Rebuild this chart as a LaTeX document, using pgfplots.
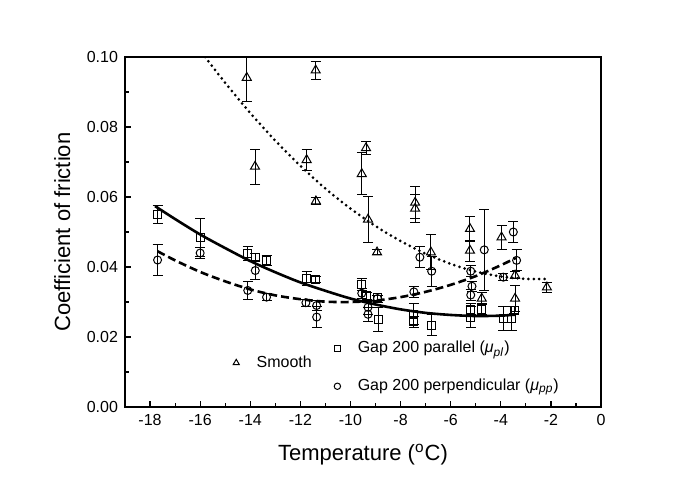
\documentclass[border=0pt]{standalone}
\usepackage{fontspec}
\setmainfont{Liberation Sans}
\usepackage{pgfplots}
\pgfplotsset{compat=1.18}
\usepackage{pgfplotstable}

\pgfplotstableread{
x y e
-14.14 0.0941 0.0068
-11.39 0.0962 0.0025
-13.81 0.0687 0.0050
-11.75 0.0706 0.0030
-11.38 0.0588 0.0010
-9.55 0.0666 0.0060
-9.38 0.0740 0.0018
-9.30 0.0536 0.0065
-8.94 0.0442 0.0007
-7.42 0.0584 0.0045
-7.42 0.0567 0.0040
-6.79 0.0442 0.0050
-5.23 0.0509 0.0035
-5.23 0.0447 0.0030
-4.76 0.0310 0.0018
-3.97 0.0485 0.0035
-3.43 0.0376 0.0010
-3.43 0.0310 0.0037
-2.16 0.0342 0.0015
}\smooth

\pgfplotstableread{
x y e
-17.70 0.0550 0.0025
-16.00 0.0485 0.0055
-14.10 0.0438 0.0020
-13.80 0.0428 0.0010
-13.35 0.0419 0.0015
-11.75 0.0368 0.0020
-11.38 0.0364 0.0008
-9.55 0.0350 0.0017
-9.35 0.0318 0.0010
-8.93 0.0312 0.0008
-8.90 0.0250 0.0035
-7.47 0.0265 0.0030
-7.47 0.0243 0.0015
-6.76 0.0234 0.0030
-5.20 0.0280 0.0015
-5.20 0.0257 0.0030
-4.76 0.0280 0.0015
-3.90 0.0253 0.0035
-3.57 0.0253 0.0035
-3.47 0.0276 0.0010
}\parallel

\pgfplotstableread{
x y e
-17.70 0.0420 0.0043
-16.00 0.0440 0.0015
-14.10 0.0333 0.0027
-13.80 0.0390 0.0025
-13.35 0.0314 0.0010
-11.78 0.0298 0.0010
-11.35 0.0290 0.0015
-11.35 0.0257 0.0030
-9.55 0.0325 0.0015
-9.30 0.0285 0.0020
-9.30 0.0265 0.0020
-8.92 0.0310 0.0010
-7.47 0.0329 0.0015
-7.23 0.0428 0.0030
-6.76 0.0388 0.0043
-5.20 0.0388 0.0015
-5.15 0.0345 0.0015
-5.20 0.0320 0.0015
-4.66 0.0449 0.0115
-3.90 0.0371 0.0010
-3.50 0.0500 0.0030
-3.37 0.0419 0.0030
}\perpendicular

\begin{document}
\begin{tikzpicture}
\begin{axis}[
  name=main,
  scale only axis, width=238pt, height=175pt,
  xmin=-19, xmax=0, ymin=0, ymax=0.1,
  xtick={-18,-16,-14,-12,-10,-8,-6,-4,-2,0},
  xticklabels={-18,-16,-14,-12,-10,-8,-6,-4,-2,0},
  minor x tick num=1,
  ytick={0,0.02,0.04,0.06,0.08,0.1},
  minor y tick num=1,
  scaled y ticks=false,
  yticklabel style={/pgf/number format/.cd, fixed, fixed zerofill, precision=2, assume math mode=true},
  tick align=inside, xtick pos=bottom, ytick pos=left,
  major tick length=3pt, minor tick length=1.8pt,
  tick style={line width=0.6pt, black},
  axis line style={line width=1pt},
  tick label style={font=\fontsize{8}{9}\selectfont},
  label style={font=\fontsize{11}{13}\selectfont},
  xlabel={Temperature (\textsuperscript{o}C)},
  ylabel={Coefficient of friction},
  xlabel style={at={(axis description cs:0.5,-0.137)}, anchor=center},
  ylabel style={at={(axis description cs:-0.132,0.5)}, anchor=center},
  error bars/error bar style={line width=0.5pt},
  error bars/error mark options={line width=0.5pt, mark size=2.5pt, rotate=90},
]
% fitted curves
\addplot[black, line width=1.5pt, dash pattern=on 0pt off 2.7pt, line cap=round, smooth] coordinates {
(-15.8,0.1000) (-15,0.0926) (-14,0.0840) (-13,0.0761) (-12,0.0689) (-11,0.0624)
(-10,0.0567) (-9,0.0517) (-8,0.0474) (-7,0.0438) (-6,0.0409) (-5,0.0387)
(-4,0.0373) (-3,0.0366) (-2.1,0.0366)};
\addplot[black, line width=1.3pt, smooth] coordinates {
(-17.8,0.0574) (-17,0.0537) (-16,0.0493) (-15,0.0454) (-14,0.0417) (-13,0.0385)
(-12,0.0356) (-11,0.0332) (-10,0.0310) (-9,0.0293) (-8,0.0279) (-7,0.0269)
(-6,0.0263) (-5,0.0260) (-4,0.0261) (-3.4,0.0264)};
\addplot[black, line width=1.3pt, dash pattern=on 4pt off 2pt, smooth] coordinates {
(-17.7,0.0445) (-17,0.0419) (-16,0.0386) (-15,0.0359) (-14,0.0336) (-13,0.0319)
(-12,0.0308) (-11,0.0301) (-10,0.0300) (-9,0.0304) (-8,0.0314) (-7,0.0329)
(-6,0.0349) (-5,0.0374) (-4,0.0405) (-3.4,0.0426)};
% data
\addplot[black, only marks, mark=triangle, mark size=2.6pt, mark options={line width=0.5pt},
  error bars/.cd, y dir=both, y explicit] table[x=x, y=y, y error=e] {\smooth};
\addplot[black, only marks, mark=square, mark size=2pt, mark options={line width=0.5pt},
  error bars/.cd, y dir=both, y explicit] table[x=x, y=y, y error=e] {\parallel};
\addplot[black, only marks, mark=o, mark size=2pt, mark options={line width=0.5pt},
  error bars/.cd, y dir=both, y explicit] table[x=x, y=y, y error=e] {\perpendicular};
\end{axis}
% legend 1
\begin{axis}[
  at={(main.south west)}, anchor=south west,
  scale only axis, width=238pt, height=175pt, hide axis,
  xmin=-19, xmax=0, ymin=0, ymax=0.1,
  legend image code/.code={\draw[#1] plot coordinates {(0pt,0pt)}; \path (-2pt,0pt) (8pt,0pt);},
  legend style={at={(0.211,0.126)}, anchor=west, draw=none, fill=none,
    font=\fontsize{8}{9}\selectfont},
]
\addlegendimage{black, only marks, mark=triangle, mark size=1.8pt, mark options={line width=0.5pt}}
\addlegendentry{Smooth}
\end{axis}
% legend 2
\begin{axis}[
  at={(main.south west)}, anchor=south west,
  scale only axis, width=238pt, height=175pt, hide axis,
  xmin=-19, xmax=0, ymin=0, ymax=0.1,
  legend cell align=left,
  legend image code/.code={\draw[#1] plot coordinates {(0pt,0pt)}; \path (-2pt,0pt) (8pt,0pt);},
  legend style={at={(0.4235,0.113)}, anchor=west, draw=none, fill=none, row sep=7.5pt,
    font=\fontsize{8}{9}\selectfont},
]
\addlegendimage{black, only marks, mark=square, mark size=1.5pt, mark options={line width=0.5pt}}
\addlegendentry{Gap 200 parallel (\textit{μ}\textsubscript{\textit{pl}})}
\addlegendimage{black, only marks, mark=o, mark size=1.6pt, mark options={line width=0.5pt}}
\addlegendentry{Gap 200 perpendicular (\textit{μ}\textsubscript{\textit{pp}})}
\end{axis}
\path ([shift={(-62.5pt,-40.5pt)}]main.south west) rectangle ([shift={(48.5pt,28.5pt)}]main.north east);
\end{tikzpicture}
\end{document}
